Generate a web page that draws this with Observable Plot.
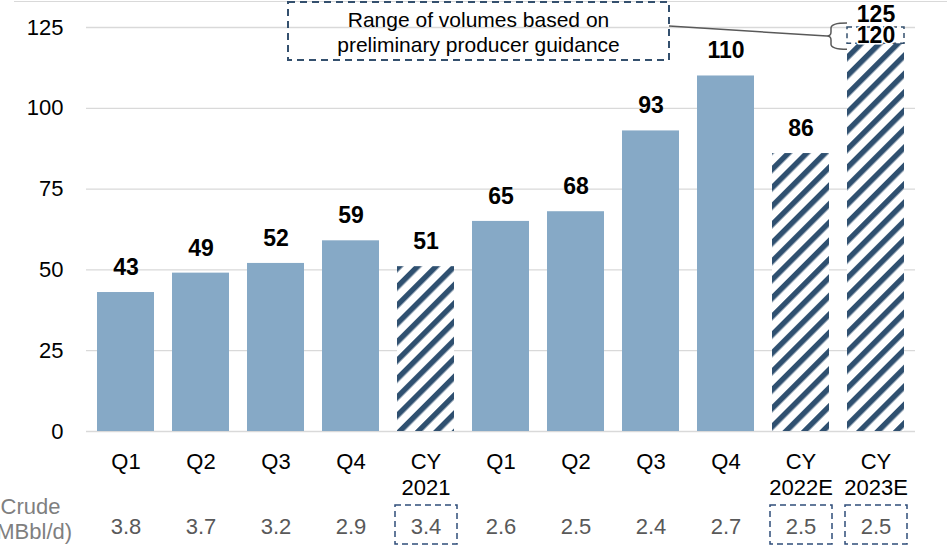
<!DOCTYPE html>
<html><head><meta charset="utf-8">
<script src="https://cdn.jsdelivr.net/npm/d3@7"></script>
<script src="https://cdn.jsdelivr.net/npm/@observablehq/plot@0.6"></script>
<style>
body{margin:0;background:#fff;}
#chart{position:relative;width:947px;height:546px;overflow:hidden;}
#topline{position:absolute;left:14px;top:1px;width:933px;height:0;border-top:1px solid #d9d9d9;}
#chart svg{position:absolute;left:0;top:0;}
</style></head><body>
<svg width="0" height="0" style="position:absolute"><defs>
<pattern id="hatch" patternUnits="userSpaceOnUse" width="13" height="13" patternTransform="rotate(45)">
<rect width="13" height="13" fill="#ffffff"/><rect width="5.5" height="13" fill="#2f5070"/>
</pattern></defs></svg>
<div id="chart"><div id="topline"></div></div>
<script>
// ---- data ----
const labels = ["Q1","Q2","Q3","Q4","CY\n2021","Q1","Q2","Q3","Q4","CY\n2022E","CY\n2023E"];
const volumes = [43,49,52,59,51,65,68,93,110,86,120];
const hatched = [false,false,false,false,true,false,false,false,false,true,true];
const crude = ["3.8","3.7","3.2","2.9","3.4","2.6","2.5","2.4","2.7","2.5","2.5"];
const boxedCrude = [false,false,false,false,true,false,false,false,false,true,true];
const rangeIndex = 10;
const rangeLow = 120;
const rangeHigh = 125;
const yTicks = [0,25,50,75,100,125];
const annotationLines = ["Range of volumes based on","preliminary producer guidance"];
const crudeLabel = "Crude\n(MBbl/d)";

const rows = labels.map((label, i) => ({i, label, volume: volumes[i], hatched: hatched[i], crude: crude[i], boxed: boxedCrude[i]}));
const rangeRow = [{i: rangeIndex, low: rangeLow, high: rangeHigh}];

const FONT = "'Liberation Sans', Arial, sans-serif";
const boxColor = "#34506e";

function annotation(index, scales, values, dimensions) {
  const x = scales.x, y = scales.y;
  const bw = x.bandwidth ? x.bandwidth() : 0;
  const g = d3.create("svg:g");
  const cx = x(5) + bw / 2 - 22;
  const boxW = 381, top = y(rangeHigh) - 25, boxH = 58;
  g.append("rect").attr("x", cx - boxW / 2).attr("y", top).attr("width", boxW).attr("height", boxH)
    .attr("fill", "none").attr("stroke", boxColor).attr("stroke-width", 2).attr("stroke-dasharray", "7,5");
  annotationLines.forEach((t, k) => {
    g.append("text").attr("x", cx).attr("y", top + 18 + k * 25).attr("text-anchor", "middle")
      .attr("dy", "0.35em").attr("font-size", 21).attr("fill", "#000").attr("font-family", FONT).text(t);
  });
  const x1 = x(rangeIndex);
  const tip = x1 - 20, xm = x1 - 16;
  const y0 = y(rangeHigh) - 4, y1 = y(rangeLow) + 6, ym = (y0 + y1) / 2;
  g.append("path").attr("d", `M${cx + boxW / 2},${top + 24}L${tip},${ym}`)
    .attr("stroke", "#595959").attr("stroke-width", 1.5).attr("fill", "none");
  g.append("path").attr("d",
    `M${x1},${y0}Q${xm},${y0} ${xm},${y0 + 5}L${xm},${ym - 4}Q${xm},${ym} ${tip},${ym}` +
    `Q${xm},${ym} ${xm},${ym + 4}L${xm},${y1 - 5}Q${xm},${y1} ${x1},${y1}`)
    .attr("stroke", "#595959").attr("stroke-width", 1.5).attr("fill", "none");
  return g.node();
}

const plot = Plot.plot({
  width: 947, height: 545,
  marginLeft: 86, marginRight: 32, marginTop: 27, marginBottom: 114,
  x: {domain: d3.range(labels.length), paddingInner: 0.24, paddingOuter: 0.12, axis: null},
  y: {domain: [0, 125], axis: null},
  style: {fontFamily: FONT, overflow: "visible", background: "transparent"},
  marks: [
    Plot.gridY(yTicks, {stroke: "#d9d9d9", strokeOpacity: 1, strokeWidth: 1.3}),
    Plot.axisY(yTicks, {tickSize: 0, tickPadding: 23, fontSize: 22, fill: "#000", label: null}),
    Plot.axisX({tickSize: 0, tickPadding: 19, fontSize: 22, lineHeight: 1.18, fill: "#000",
      tickFormat: i => labels[i], label: null}),
    Plot.barY(rows.filter(d => !d.hatched), {x: "i", y: "volume", fill: "#86a9c6"}),
    Plot.barY(rows.filter(d => d.hatched), {x: "i", y: "volume", fill: "url(#hatch)"}),
    Plot.text(rows.filter(d => d.i !== rangeIndex), {x: "i", y: "volume", text: d => String(d.volume),
      dy: -25, fontSize: 23, fontWeight: "bold", fill: "#000"}),
    Plot.barY(rangeRow, {x: "i", y1: "low", y2: "high", fill: "#fff", stroke: boxColor,
      strokeWidth: 1.5, strokeDasharray: "5,4"}),
    Plot.text(rangeRow, {x: "i", y: "low", text: d => String(d.low), dy: -8, fontSize: 23,
      fontWeight: "bold", fill: "#000", stroke: "#fff", strokeWidth: 3, paintOrder: "stroke"}),
    Plot.text(rangeRow, {x: "i", y: "high", text: d => String(d.high), dy: -13, fontSize: 23,
      fontWeight: "bold", fill: "#000"}),
    Plot.text(rows, {x: "i", text: "crude", frameAnchor: "bottom", lineAnchor: "middle", dy: 95,
      fontSize: 22, fill: "#595959"}),
    Plot.barY(rows.filter(d => d.boxed), {x: "i", y1: 0, y2: 0, insetTop: 74, insetBottom: -113,
      insetLeft: -2, insetRight: -3, fill: "none", stroke: "#2f4d7a", strokeWidth: 1.5, strokeDasharray: "6,4"}),
    Plot.text([crudeLabel], {frameAnchor: "bottom-left", lineAnchor: "middle", dx: -56, dy: 87,
      textAnchor: "middle", lineHeight: 1.15, fontSize: 22, fill: "#7f7f7f"}),
    annotation
  ]
});
document.getElementById("chart").appendChild(plot);
</script>
</body></html>
